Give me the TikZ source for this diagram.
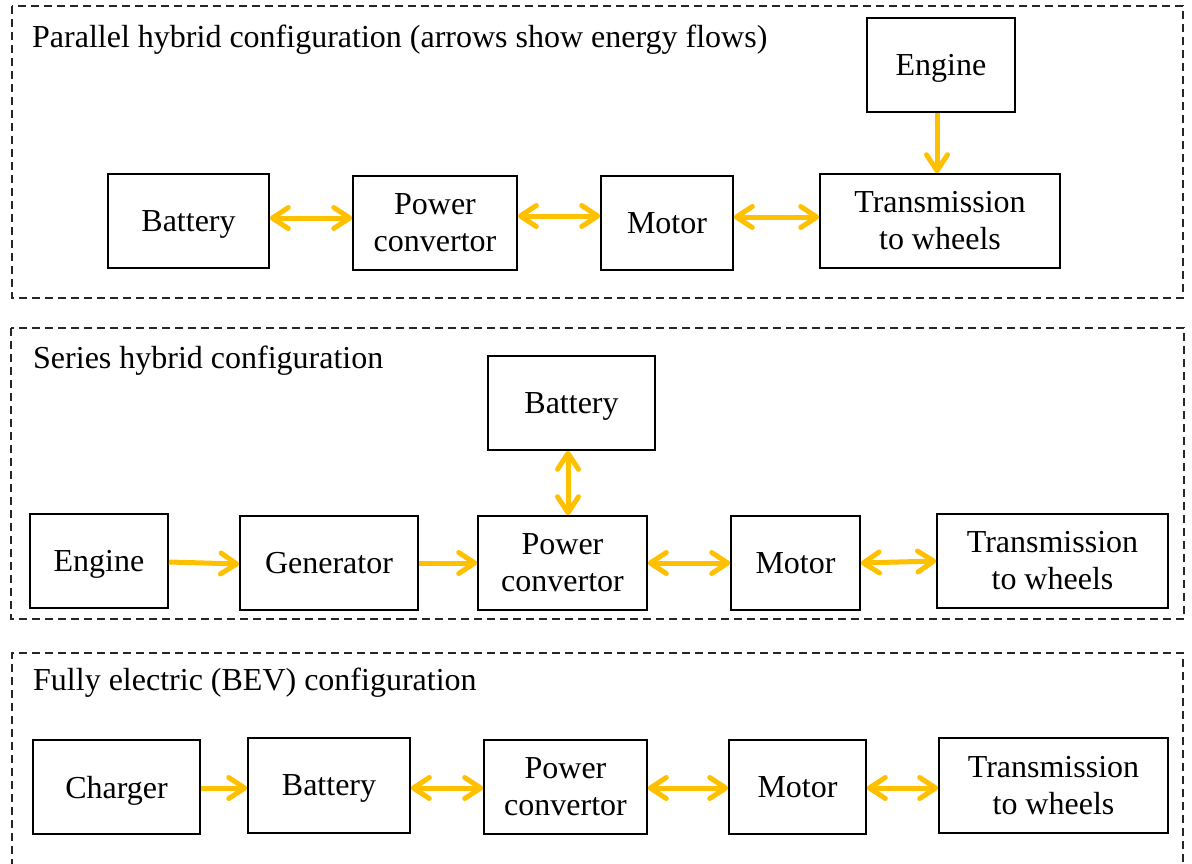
\documentclass[tikz,border=0pt]{standalone}
\usepackage{fontspec}
\setmainfont{Liberation Serif}
\usetikzlibrary{arrows.meta}
\definecolor{flow}{HTML}{FFC000}
\tikzset{
  blk/.style={draw=black, line width=1.6pt, inner sep=0pt, align=center,
              font=\fontsize{32}{37}\selectfont},
  sl/.style={text depth=0pt},
  ttl/.style={anchor=base west, inner sep=0pt, font=\fontsize{32}{37}\selectfont},
  panel/.style={draw=black!85, line width=1.3pt, dash pattern=on 8pt off 5pt},
  tipx/.tip={Straight Barb[round, length=16pt, width=21pt]},
  one/.style={draw=flow, line width=5pt, -tipx},
  two/.style={draw=flow, line width=5pt, tipx-tipx},
}
\begin{document}
\begin{tikzpicture}[x=1pt, y=-1pt]
\useasboundingbox (0,0) rectangle (1192,863);
% panels
\draw[panel] (12,6) rectangle (1183,298);
\draw[panel] (11,328) rectangle (1184,619);
\draw[panel] (12,880) -- (12,653) -- (1183,653) -- (1183,880);
% panel 1
\node[ttl] (t1) at (32,47) {Parallel hybrid configuration (arrows show energy flows)};
\node[blk, sl, minimum width=148pt, minimum height=94pt] (eng1) at (941,65) {Engine};
\node[blk, sl, minimum width=161pt, minimum height=94pt] (bat1) at (188.5,221) {Battery};
\node[blk, minimum width=164pt, minimum height=94pt] (pc1) at (435,223) {Power\\convertor};
\node[blk, sl, minimum width=132pt, minimum height=94pt] (mot1) at (667,223) {Motor};
\node[blk, minimum width=240pt, minimum height=94pt] (tr1) at (940,221) {Transmission\\to wheels};
\draw[two] (bat1.east |- 0,218) -- (pc1.west |- 0,218);
\draw[two] (pc1.east |- 0,216) -- (mot1.west |- 0,216);
\draw[two] (mot1.east |- 0,217) -- (tr1.west |- 0,217);
\draw[one] (eng1.south -| 937,0) -- (tr1.north -| 937,0);
% panel 2
\node[ttl] (t2) at (33,368) {Series hybrid configuration};
\node[blk, sl, minimum width=167pt, minimum height=94pt] (bat2) at (571.5,403) {Battery};
\node[blk, sl, minimum width=138pt, minimum height=94pt] (eng2) at (99,561) {Engine};
\node[blk, sl, minimum width=178pt, minimum height=94pt] (gen2) at (329,563) {Generator};
\node[blk, minimum width=169pt, minimum height=94pt] (pc2) at (562.5,563) {Power\\convertor};
\node[blk, sl, minimum width=129pt, minimum height=94pt] (mot2) at (795.5,563) {Motor};
\node[blk, minimum width=231pt, minimum height=94pt] (tr2) at (1052.5,561) {Transmission\\to wheels};
\draw[one] (eng2.east |- 0,562) -- (gen2.west |- 0,564);
\draw[one] (gen2.east |- 0,563) -- (pc2.west |- 0,563);
\draw[two] (pc2.east |- 0,563) -- (mot2.west |- 0,563);
\draw[two] (mot2.east |- 0,563) -- (tr2.west |- 0,561);
\draw[two] (bat2.south -| 568,0) -- (pc2.north -| 568,0);
% panel 3
\node[ttl] (t3) at (33,690) {Fully electric (BEV) configuration};
\node[blk, sl, minimum width=167pt, minimum height=94pt] (ch3) at (116.5,787) {Charger};
\node[blk, sl, minimum width=162pt, minimum height=95pt] (bat3) at (329,785.5) {Battery};
\node[blk, minimum width=163pt, minimum height=94pt] (pc3) at (565.5,787) {Power\\convertor};
\node[blk, sl, minimum width=137pt, minimum height=94pt] (mot3) at (797.5,787) {Motor};
\node[blk, minimum width=229pt, minimum height=95pt] (tr3) at (1053.5,785.5) {Transmission\\to wheels};
\draw[one] (ch3.east |- 0,788) -- (bat3.west |- 0,788);
\draw[two] (bat3.east |- 0,788) -- (pc3.west |- 0,788);
\draw[two] (pc3.east |- 0,788) -- (mot3.west |- 0,788);
\draw[two] (mot3.east |- 0,788) -- (tr3.west |- 0,788);
\end{tikzpicture}
\end{document}
